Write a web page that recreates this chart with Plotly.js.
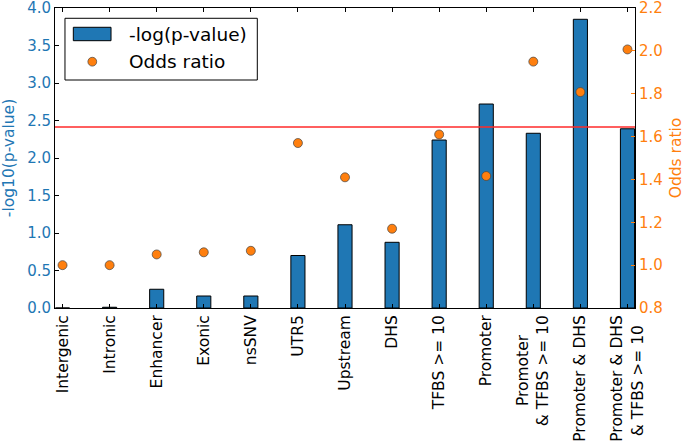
<!DOCTYPE html>
<html>
<head>
<meta charset="utf-8">
<script src="https://cdn.plot.ly/plotly-3.0.1.min.js"></script>
<style>html,body{margin:0;padding:0;background:#fff;}#chart{width:685px;height:445px;}</style>
</head>
<body>
<div id="chart"></div>
<script>
const categories = ["Intergenic", "Intronic", "Enhancer", "Exonic", "nsSNV", "UTR5", "Upstream", "DHS",
  "TFBS >= 10", "Promoter", "Promoter<br>& TFBS >= 10", "Promoter & DHS", "Promoter & DHS<br>& TFBS >= 10"];
const negLogP = [0.0, 0.01, 0.25, 0.16, 0.16, 0.70, 1.11, 0.876, 2.24, 2.72, 2.33, 3.85, 2.39];
const oddsRatio = [1.00, 1.00, 1.05, 1.06, 1.067, 1.57, 1.41, 1.17, 1.61, 1.416, 1.95, 1.808, 2.007];
const threshold = 2.415;
const leftTicks = [0.0, 0.5, 1.0, 1.5, 2.0, 2.5, 3.0, 3.5, 4.0];
const rightTicks = [0.8, 1.0, 1.2, 1.4, 1.6, 1.8, 2.0, 2.2];
const legendLabels = ["-log(p-value)", "Odds ratio"];

const xs = categories.map((_, i) => i);
const blue = "#1f77b4", orange = "#ff7f0e";
const font = "DejaVu Sans, sans-serif";

// centre the lines of two-line labels (matplotlib centres multi-line text)
const NB = "\u00a0";
function centreLines(label) {
  const parts = label.split("<br>");
  if (parts.length < 2) return label;
  const len = parts.map(p => p.length);
  const maxLen = Math.max(...len);
  return parts.map((p, i) => p + NB.repeat(Math.max(0, Math.round((maxLen - len[i]) * 0.9)))).join("<br>");
}
const tickLabels = categories.map(centreLines);

const traces = [
  {
    type: "bar", x: xs, y: negLogP, width: 0.3, name: legendLabels[0],
    marker: {color: blue, line: {color: "#000", width: 1}}, yaxis: "y"
  },
  {
    type: "scatter", mode: "markers", x: xs, y: oddsRatio, name: legendLabels[1],
    marker: {color: orange, size: 9, line: {color: "#444", width: 0.7}}, yaxis: "y2"
  }
];

const layout = {
  width: 685, height: 445,
  margin: {l: 55, r: 50, t: 8, b: 137},
  paper_bgcolor: "#fff", plot_bgcolor: "#fff",
  font: {family: font, size: 15, color: "#000"},
  showlegend: false,
  xaxis: {
    range: [-0.16, 12.16], tickmode: "array", tickvals: xs, ticktext: tickLabels,
    tickangle: -90, ticks: "inside", ticklen: 4, tickcolor: "#000",
    showline: true, linecolor: "#000", linewidth: 1, mirror: "ticks",
    showgrid: false, zeroline: false, ticklabeloverflow: "allow",
    tickfont: {family: font, size: 15.5, color: "#000"}
  },
  yaxis: {
    range: [0, 4.0005], tickmode: "array", tickvals: leftTicks, ticktext: leftTicks.map(v => v.toFixed(1)),
    ticks: "inside", ticklen: 4, tickcolor: "#000", ticklabeloverflow: "allow",
    showline: true, linecolor: "#000", linewidth: 1,
    showgrid: false, zeroline: false,
    tickfont: {family: font, size: 15, color: blue},
    title: {text: "-log10(p-value)", font: {family: font, size: 15.5, color: blue}, standoff: 8}
  },
  yaxis2: {
    overlaying: "y", side: "right", range: [0.8, 2.2003],
    tickmode: "array", tickvals: rightTicks, ticktext: rightTicks.map(v => v.toFixed(1)),
    ticks: "inside", ticklen: 4, tickcolor: orange, ticklabeloverflow: "allow",
    showline: true, linecolor: "#000", linewidth: 1,
    showgrid: false, zeroline: false,
    tickfont: {family: font, size: 15, color: orange},
    title: {text: "Odds ratio", font: {family: font, size: 15.5, color: orange}, standoff: 10}
  },
  shapes: [
    {type: "line", xref: "paper", x0: 0, x1: 1, yref: "y", y0: threshold, y1: threshold,
     line: {color: "#ff2a2a", width: 1.5}, layer: "above"},
    // legend frame
    {type: "rect", xref: "paper", yref: "paper", x0: 0.0172, x1: 0.3488, y0: 0.760, y1: 0.9657,
     line: {color: "#000", width: 1}, fillcolor: "#fff", layer: "above"},
    // legend bar symbol
    {type: "rect", xref: "paper", yref: "paper", x0: 0.0316, x1: 0.0966, y0: 0.891, y1: 0.9357,
     line: {color: "#000", width: 1}, fillcolor: blue, layer: "above"},
    // legend marker symbol
    {type: "circle", xref: "paper", yref: "paper", x0: 0.0643 - 0.0076, x1: 0.0643 + 0.0076,
     y0: 0.821 - 0.0147, y1: 0.821 + 0.0147,
     line: {color: "#444", width: 0.7}, fillcolor: orange, layer: "above"}
  ],
  annotations: [
    {xref: "paper", yref: "paper", x: 0.1236, y: 0.913, xanchor: "left", yanchor: "middle",
     text: legendLabels[0], showarrow: false, font: {family: font, size: 18.5, color: "#000"}},
    {xref: "paper", yref: "paper", x: 0.1236, y: 0.821, xanchor: "left", yanchor: "middle",
     text: legendLabels[1], showarrow: false, font: {family: font, size: 18.5, color: "#000"}}
  ]
};

Plotly.newPlot("chart", traces, layout, {displayModeBar: false, staticPlot: true});
</script>
</body>
</html>
